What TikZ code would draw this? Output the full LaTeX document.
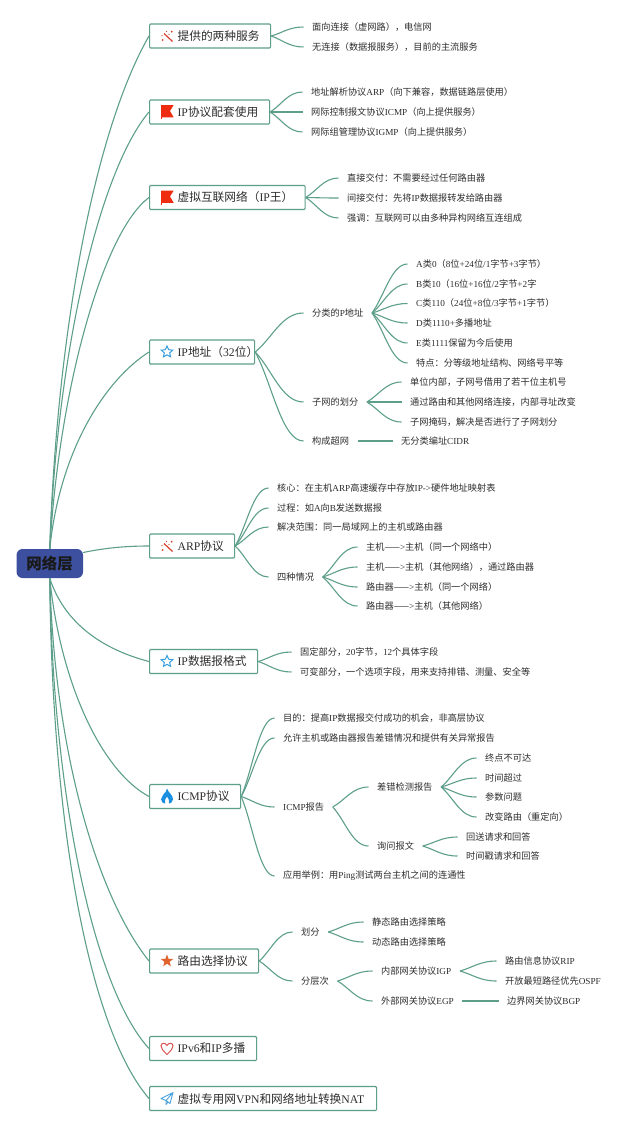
\documentclass[tikz,border=0pt]{standalone}
\usepackage{fontspec}
\usetikzlibrary{calc,shapes.geometric}
\setmainfont{Noto Sans CJK SC}
\newfontfamily\latfont{Liberation Serif}
\newcommand\lat[1]{{\latfont #1}}
\definecolor{linkc}{HTML}{5E9F8B}
\definecolor{textc}{HTML}{2E2E2E}
\definecolor{rootc}{HTML}{3C509F}
\definecolor{wandc}{HTML}{D8402F}
\definecolor{flagc}{HTML}{F02C10}
\definecolor{starc}{HTML}{3A9FE0}
\definecolor{firec}{HTML}{1A8FE0}
\definecolor{orangec}{HTML}{E0622C}
\definecolor{heartc}{HTML}{D9534F}
\definecolor{planec}{HTML}{4AA3E0}
\tikzset{
  link/.style={draw=linkc,line width=1.1pt},
  rootbox/.style={fill=rootc,rounded corners=6pt,minimum width=66.5pt,minimum height=29pt,inner sep=0pt,font=\fontsize{15.5}{16}\selectfont\bfseries,text=black!90},
  mainbox/.style={draw=linkc,line width=1.2pt,fill=white,rounded corners=1pt,minimum height=24pt,inner ysep=0pt,inner xsep=0pt,anchor=west,align=left,font=\fontsize{11.7}{12}\selectfont,text=textc},
  leaf/.style={anchor=west,inner xsep=8.5pt,inner ysep=1pt,font=\fontsize{9.2}{10}\selectfont,text=textc},
}
\newcommand\mb[4]{\node[mainbox,minimum width=#3pt,text width=#3pt] (#1) at (149,#2) {\hspace*{28pt}#4};}
\newcommand\br[2]{\draw[link] (#1) .. controls ($(#1)!.35!(#2)$) and ($(#1 |- #2)!.55!(#2)$) .. (#2);}
\newcommand\wand[1]{\begin{scope}[shift={(#1)},shift={(18,0)}]
  \draw[wandc,line width=1.2pt] (-3,-2.5) -- (5.5,5.5);
  \fill[wandc] (-4.3,4) circle (1pt) (4.7,-4.3) circle (1pt) (-0.5,-4.5) circle (.7pt) (-5,-.5) circle (.6pt) (2,-1.5) circle (.6pt);
\end{scope}}
\newcommand\flag[1]{\begin{scope}[shift={(#1)},shift={(12,0)}]
  \fill[flagc] (0,-7) -- (12.7,-7) -- (9,-1) -- (12.7,5.3) -- (0,5.3) -- cycle;
  \draw[flagc,line width=.5pt] (0,5) -- (0,7);
\end{scope}}
\newcommand\hollowstar[1]{\node[star,star points=5,star point ratio=2.1,draw=starc,line width=1pt,minimum size=12pt,inner sep=0pt] at ($(#1)+(18,0)$) {};}
\begin{document}
\begin{tikzpicture}[x=1pt,y=-1pt]
\useasboundingbox (0,0) rectangle (640,1127);
\fill[white] (0,0) rectangle (640,1127);
% root and main nodes
\node[rootbox] (root) at (49.75,563.5) {网络层};
\mb{a}{36}{121}{提供的两种服务}
\mb{b}{112}{120}{\lat{IP}协议配套使用}
\mb{c}{197.5}{155.5}{虚拟互联网络（\lat{IP}王）}
\mb{d}{352}{105}{\lat{IP}地址（\lat{32}位）}
\mb{e}{546}{85}{\lat{ARP}协议}
\mb{f}{661.5}{108}{\lat{IP}数据报格式}
\mb{g}{796.5}{91}{\lat{ICMP}协议}
\mb{h}{961}{109}{路由选择协议}
\mb{i}{1048.5}{107}{\lat{IPv6}和\lat{IP}多播}
\mb{j}{1098.5}{227}{虚拟专用网\lat{VPN}和网络地址转换\lat{NAT}}
% root connectors
\draw[link] (root.north) .. controls (57,330) and (95,130) .. (a.west);
\draw[link] (root.north) .. controls (57,350) and (100,170) .. (b.west);
\draw[link] (root.north) .. controls (60,380) and (105,230) .. (c.west);
\draw[link] (root.north) .. controls (60,450) and (105,380) .. (d.west);
\draw[link] (root.east) ++(0,-11) .. controls (105,548) and (125,546) .. (e.west);
\draw[link] (root.south) .. controls (65,625) and (105,650) .. (f.west);
\draw[link] (root.south) .. controls (60,680) and (100,770) .. (g.west);
\draw[link] (root.south) .. controls (55,760) and (100,900) .. (h.west);
\draw[link] (root.south) .. controls (53,800) and (95,990) .. (i.west);
\draw[link] (root.south) .. controls (52,830) and (90,1030) .. (j.west);
% leaves a
\node[leaf] (a1) at (303.5,27) {面向连接（虚网路），电信网};
\node[leaf] (a2) at (303.5,47) {无连接（数据报服务），目前的主流服务};
\br{a.east}{a1.west}\br{a.east}{a2.west}
% b
\node[leaf] (b1) at (302.5,92) {地址解析协议\lat{ARP}（向下兼容，数据链路层使用）};
\node[leaf] (b2) at (302.5,112) {网际控制报文协议\lat{ICMP}（向上提供服务）};
\node[leaf] (b3) at (302.5,132) {网际组管理协议\lat{IGMP}（向上提供服务）};
\br{b.east}{b1.west}\br{b.east}{b2.west}\br{b.east}{b3.west}
% c
\node[leaf] (c1) at (338.5,178) {直接交付：不需要经过任何路由器};
\node[leaf] (c2) at (338.5,198) {间接交付：先将\lat{IP}数据报转发给路由器};
\node[leaf] (c3) at (338.5,218) {强调：互联网可以由多种异构网络互连组成};
\br{c.east}{c1.west}\br{c.east}{c2.west}\br{c.east}{c3.west}
% d
\node[leaf] (d1) at (303.5,313) {分类的\lat{P}地址};
\node[leaf] (d2) at (303.5,402) {子网的划分};
\node[leaf] (d3) at (303.5,441) {构成超网};
\br{d.east}{d1.west}\br{d.east}{d2.west}\br{d.east}{d3.west}
\node[leaf] (d11) at (407.5,264) {\lat{A}类\lat{0}（\lat{8}位\lat{+24}位\lat{/1}字节\lat{+3}字节）};
\node[leaf] (d12) at (407.5,284) {\lat{B}类\lat{10}（\lat{16}位\lat{+16}位\lat{/2}字节\lat{+2}字};
\node[leaf] (d13) at (407.5,303.5) {\lat{C}类\lat{110}（\lat{24}位\lat{+8}位\lat{/3}字节\lat{+1}字节）};
\node[leaf] (d14) at (407.5,323) {\lat{D}类\lat{1110+}多播地址};
\node[leaf] (d15) at (407.5,343) {\lat{E}类\lat{1111}保留为今后使用};
\node[leaf] (d16) at (407.5,363) {特点：分等级地址结构、网络号平等};
\br{d1.east}{d11.west}\br{d1.east}{d12.west}\br{d1.east}{d13.west}\br{d1.east}{d14.west}\br{d1.east}{d15.west}\br{d1.east}{d16.west}
\node[leaf] (d21) at (401.5,382) {单位内部，子网号借用了若干位主机号};
\node[leaf] (d22) at (401.5,402) {通过路由和其他网络连接，内部寻址改变};
\node[leaf] (d23) at (401.5,422) {子网掩码，解决是否进行了子网划分};
\br{d2.east}{d21.west}\br{d2.east}{d22.west}\br{d2.east}{d23.west}
\node[leaf] (d31) at (392.5,441) {无分类编址\lat{CIDR}};
\draw[link] (d3.east) -- (d31.west);
% e
\node[leaf] (e1) at (268.5,488) {核心：在主机\lat{ARP}高速缓存中存放\lat{IP->}硬件地址映射表};
\node[leaf] (e2) at (268.5,508) {过程：如\lat{A}向\lat{B}发送数据报};
\node[leaf] (e3) at (268.5,527) {解决范围：同一局域网上的主机或路由器};
\node[leaf] (e4) at (268.5,577) {四种情况};
\br{e.east}{e1.west}\br{e.east}{e2.west}\br{e.east}{e3.west}\br{e.east}{e4.west}
\node[leaf] (e41) at (357.5,547) {主机——\lat{>}主机（同一个网络中）};
\node[leaf] (e42) at (357.5,567) {主机——\lat{>}主机（其他网络），通过路由器};
\node[leaf] (e43) at (357.5,587) {路由器——\lat{>}主机（同一个网络）};
\node[leaf] (e44) at (357.5,606) {路由器——\lat{>}主机（其他网络）};
\br{e4.east}{e41.west}\br{e4.east}{e42.west}\br{e4.east}{e43.west}\br{e4.east}{e44.west}
% f
\node[leaf] (f1) at (291.5,652) {固定部分，\lat{20}字节，\lat{12}个具体字段};
\node[leaf] (f2) at (291.5,672) {可变部分，一个选项字段，用来支持排错、测量、安全等};
\br{f.east}{f1.west}\br{f.east}{f2.west}
% g
\node[leaf] (g1) at (274.5,718) {目的：提高\lat{IP}数据报交付成功的机会，非高层协议};
\node[leaf] (g2) at (274.5,738) {允许主机或路由器报告差错情况和提供有关异常报告};
\node[leaf] (g3) at (274.5,807) {\lat{ICMP}报告};
\node[leaf] (g4) at (274.5,876) {应用举例：用\lat{Ping}测试两台主机之间的连通性};
\br{g.east}{g1.west}\br{g.east}{g2.west}\br{g.east}{g3.west}\br{g.east}{g4.west}
\node[leaf] (g31) at (368.5,787) {差错检测报告};
\node[leaf] (g32) at (368.5,846) {询问报文};
\br{g3.east}{g31.west}\br{g3.east}{g32.west}
\node[leaf] (g311) at (476.5,758) {终点不可达};
\node[leaf] (g312) at (476.5,778) {时间超过};
\node[leaf] (g313) at (476.5,797) {参数问题};
\node[leaf] (g314) at (476.5,817) {改变路由（重定向）};
\br{g31.east}{g311.west}\br{g31.east}{g312.west}\br{g31.east}{g313.west}\br{g31.east}{g314.west}
\node[leaf] (g321) at (457.5,837) {回送请求和回答};
\node[leaf] (g322) at (457.5,856) {时间戳请求和回答};
\br{g32.east}{g321.west}\br{g32.east}{g322.west}
% h
\node[leaf] (h1) at (292.5,932) {划分};
\node[leaf] (h2) at (292.5,981) {分层次};
\br{h.east}{h1.west}\br{h.east}{h2.west}
\node[leaf] (h11) at (363.5,922) {静态路由选择策略};
\node[leaf] (h12) at (363.5,942) {动态路由选择策略};
\br{h1.east}{h11.west}\br{h1.east}{h12.west}
\node[leaf] (h21) at (372.5,971) {内部网关协议\lat{IGP}};
\node[leaf] (h22) at (372.5,1001) {外部网关协议\lat{EGP}};
\br{h2.east}{h21.west}\br{h2.east}{h22.west}
\node[leaf] (h211) at (496.5,961) {路由信息协议\lat{RIP}};
\node[leaf] (h212) at (496.5,981) {开放最短路径优先\lat{OSPF}};
\br{h21.east}{h211.west}\br{h21.east}{h212.west}
\node[leaf] (h221) at (498.5,1001) {边界网关协议\lat{BGP}};
\draw[link] (h22.east) -- (h221.west);
% icons
\wand{a.west}
\flag{b.west}
\flag{c.west}
\hollowstar{d.west}
\wand{e.west}
\hollowstar{f.west}
\begin{scope}[shift={(g.west)},shift={(18,0)}]
  \fill[firec] (0,-8) .. controls (1,-4) and (6,-2) .. (6,3) .. controls (6,6) and (3,7) .. (2,7) .. controls (3,4) and (1,2) .. (0,0) .. controls (-1,2) and (-3,4) .. (-2,7) .. controls (-3,7) and (-6,6) .. (-6,3) .. controls (-6,0) and (-3,-1) .. (-3,-3) .. controls (-2,-3) and (-1,-5) .. (0,-8) -- cycle;
\end{scope}
\node[star,star points=5,star point ratio=2.4,fill=orangec,inner sep=0pt,minimum size=13pt] at ($(h.west)+(18,0)$) {};
\begin{scope}[shift={(i.west)},shift={(18,0)}]
  \draw[heartc,line width=1pt] (0,6) .. controls (-4,2) and (-6,0) .. (-6,-2.5) .. controls (-6,-6) and (-1.5,-6) .. (0,-3) .. controls (1.5,-6) and (6,-6) .. (6,-2.5) .. controls (6,0) and (4,2) .. (0,6) -- cycle;
\end{scope}
\begin{scope}[shift={(j.west)},shift={(18,0)}]
  \draw[planec,line width=.9pt,line join=round] (-6,0) -- (6,-6) -- (3,5) -- (-1,2) -- cycle (6,-6) -- (-1,2) -- (-1,6) -- (1,3.5);
\end{scope}
\end{tikzpicture}
\end{document}
